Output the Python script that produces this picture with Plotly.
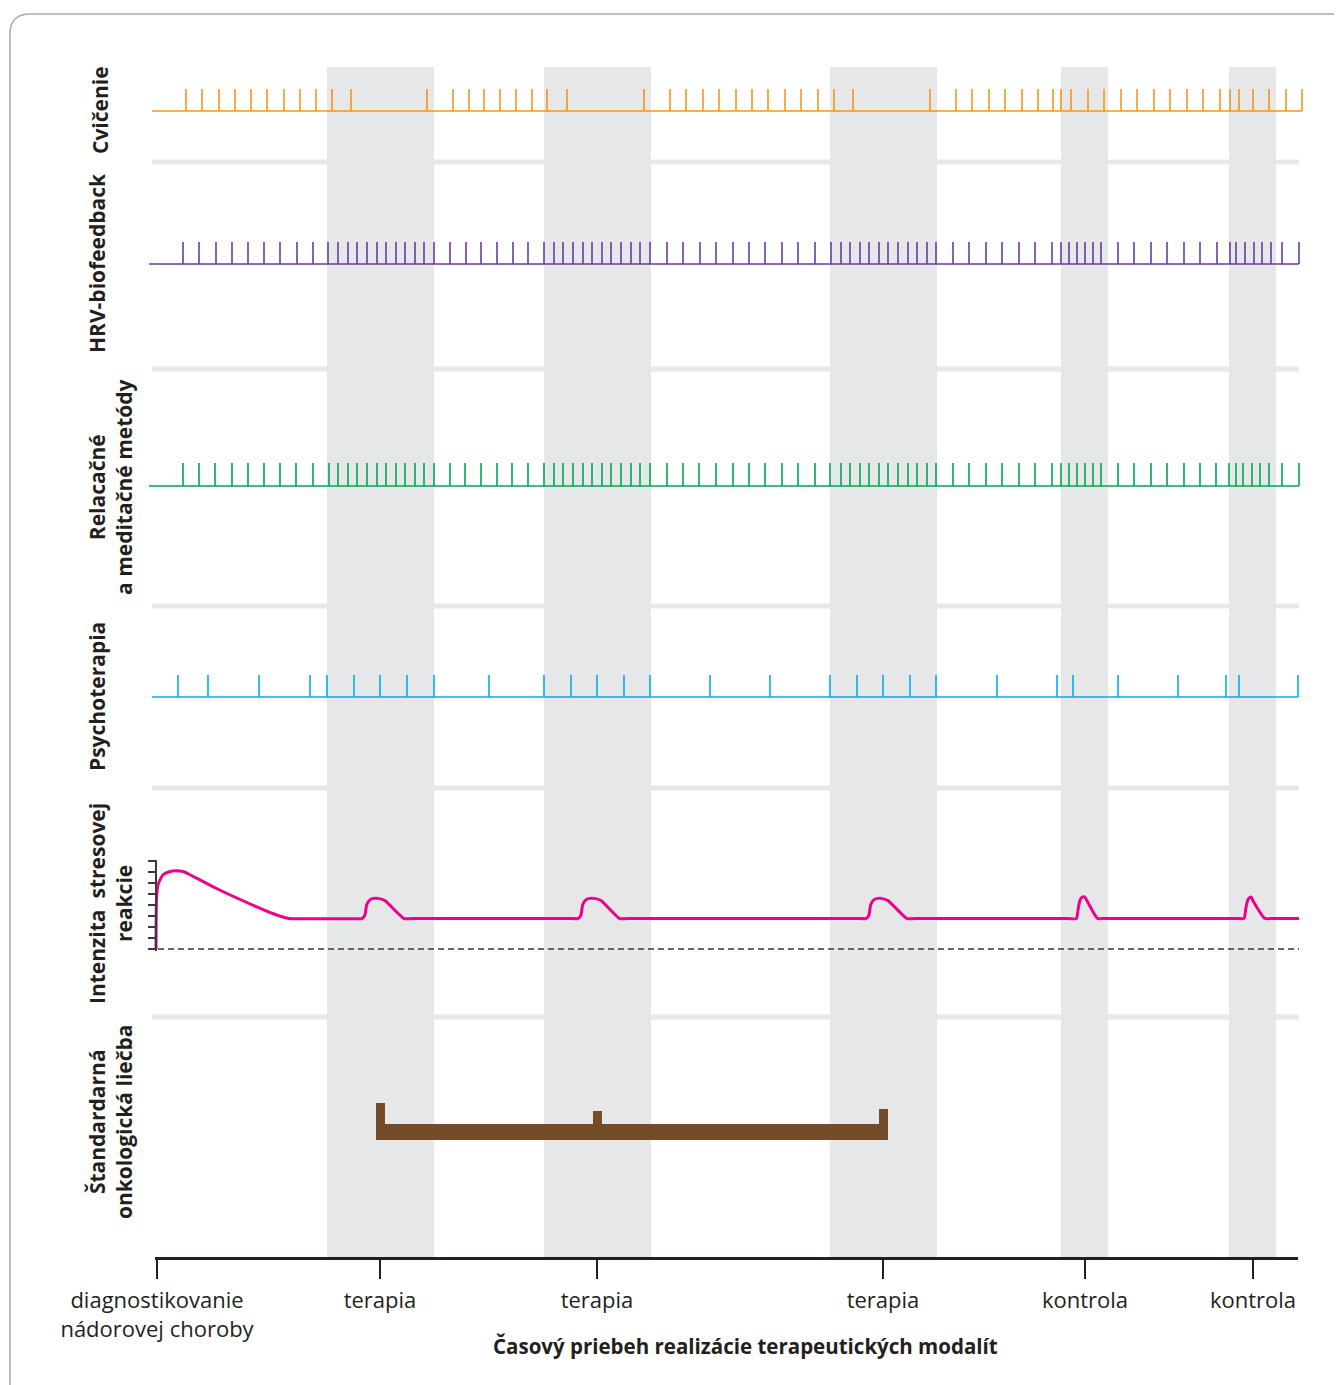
import plotly.graph_objects as go

OFF = 8                      # page body margin in the browser
W, H = 1342 - OFF, 1385 - OFF

# ---------------- data ----------------
row_labels = [
    "Cvičenie",
    "HRV-biofeedback",
    "Relacačné<br>a meditačné metódy",
    "Psychoterapia",
    "Intenzita\u00a0 stresovej<br>reakcie",
    "Štandardarná<br>onkologická liečba",
]

timeline_ticks = [157, 380, 597, 883, 1085, 1253]
timeline_labels = ["diagnostikovanie<br>nádorovej choroby", "terapia", "terapia",
                   "terapia", "kontrola", "kontrola"]
x_title = "Časový priebeh realizácie terapeutických modalít"

period_start = [327, 544, 830, 1061, 1229]
period_end = [434, 651, 937, 1108, 1276]

cvicenie = [186, 202, 219, 235, 251, 267, 284, 300, 316, 332, 351, 427, 453, 469, 484,
            500, 516, 532, 547, 567, 644, 670, 686, 703, 719, 736, 752, 768, 785, 801,
            818, 834, 853, 930, 956, 972, 989, 1005, 1022, 1038, 1053, 1061, 1071, 1088,
            1104, 1121, 1137, 1154, 1170, 1187, 1203, 1220, 1230, 1239, 1253, 1269, 1286, 1302]
hrv = [183, 199, 216, 232, 248, 264, 280, 297, 313, 328, 338, 348, 357, 367, 377, 386, 396,
       405, 415, 424, 434, 450, 466, 481, 497, 513, 528, 544, 554, 563, 573, 583, 592, 602,
       611, 621, 631, 640, 650, 667, 683, 700, 716, 733, 749, 765, 782, 798, 815, 831, 841,
       850, 860, 869, 879, 888, 898, 908, 917, 927, 936, 953, 969, 986, 1002, 1019, 1035,
       1052, 1061, 1069, 1077, 1085, 1093, 1101, 1118, 1134, 1151, 1167, 1184, 1200, 1217,
       1230, 1236, 1245, 1254, 1262, 1271, 1282, 1299]
relaxacia = [183, 199, 215, 232, 248, 264, 280, 296, 313, 329, 338, 348, 357, 367, 377, 386,
             396, 405, 415, 424, 434, 450, 465, 481, 497, 512, 528, 544, 554, 563, 573, 583,
             592, 602, 611, 621, 631, 640, 650, 667, 683, 699, 716, 733, 749, 765, 782, 798,
             815, 830, 841, 850, 860, 869, 879, 888, 898, 908, 917, 927, 936, 953, 969, 986,
             1002, 1019, 1035, 1052, 1061, 1069, 1077, 1085, 1093, 1101, 1118, 1134, 1151,
             1167, 1184, 1200, 1216, 1229, 1236, 1243, 1252, 1260, 1269, 1282, 1299]
psychoterapia = [178, 208, 259, 310, 327, 354, 380, 407, 434, 489, 544, 571, 597, 624, 650,
                 710, 770, 830, 857, 883, 910, 936, 997, 1057, 1073, 1118, 1178, 1226, 1239, 1298]
series_start = [152, 149, 149, 152]

stress_x = [156, 156.5, 158, 163, 170, 176, 184, 190, 216, 255, 274, 289, 300,
            350, 362, 365, 366.6, 369.6, 373.5, 378, 385, 404, 412,
            570, 578, 581, 582.6, 585.6, 589.5, 594.6, 601, 619.5, 627,
            858, 866, 869, 870.6, 873.6, 877.5, 881.2, 888, 907, 915,
            1068, 1076.3, 1078.3, 1080, 1082, 1084.8, 1087.5, 1097.4, 1105,
            1236, 1244, 1246, 1248, 1250, 1251.2, 1253.5, 1265, 1273, 1299]
stress_y = [0, 4.5, 5.85, 6.75, 7.05, 7.12, 7.02, 6.75, 5.52, 3.9, 3.18, 2.77, 2.75,
            2.76, 2.77, 3.1, 4.0, 4.45, 4.6, 4.6, 4.4, 2.77, 2.77,
            2.77, 2.77, 3.1, 4.0, 4.45, 4.6, 4.6, 4.4, 2.77, 2.77,
            2.77, 2.77, 3.1, 4.0, 4.45, 4.6, 4.6, 4.4, 2.77, 2.77,
            2.77, 2.77, 3.7, 4.45, 4.7, 4.72, 4.3, 2.78, 2.78,
            2.78, 2.78, 3.8, 4.5, 4.7, 4.72, 4.3, 2.78, 2.78, 2.78]
stress_ticks = [0, 1, 2, 3, 4, 5, 6, 7, 8]

treatment_x = [380.5, 597.5, 883.5]
treatment_post = [42, 34, 36]

# ---------------- styling ----------------
GRAY = "#e6e7e8"
TXT = "#231f20"
FONT = "Open Sans"
series_colors = ["#f7941d", "#6e3a9e", "#00a651", "#00aeef"]
series_base_px = [111, 264, 486, 697]
series_tick_h = [22, 22, 23, 22]
series_data = [cvicenie, hrv, relaxacia, psychoterapia]


def px(x):
    return (x - OFF) / W


def py(y):
    return 1 - (y - OFF) / H


fig = go.Figure()
layout_axes = {}

# event rows
for i, (ev, col, b, h, s) in enumerate(zip(series_data, series_colors, series_base_px,
                                             series_tick_h, series_start)):
    yname = "y" if i == 0 else f"y{i + 1}"
    key = "yaxis" if i == 0 else f"yaxis{i + 1}"
    layout_axes[key] = dict(domain=[py(b + 4), py(b - h)], range=[-4 / h, 1],
                            visible=False, fixedrange=True, automargin=False)
    xs, ys = [], []
    for t in ev:
        xs += [t, t, None]
        ys += [0, 1, None]
    fig.add_trace(go.Scatter(x=xs, y=ys, mode="lines", xaxis="x", yaxis=yname,
                             line=dict(color=col, width=1.6), hoverinfo="skip",
                             showlegend=False))
    fig.add_trace(go.Scatter(x=[s, max(ev)], y=[0, 0], mode="lines", xaxis="x", yaxis=yname,
                             line=dict(color=col, width=1.6), hoverinfo="skip",
                             showlegend=False))

# stress row (y5)
layout_axes["yaxis5"] = dict(domain=[py(950.65), py(860)], range=[-0.15, 8.09],
                             anchor="free", position=px(156), side="left",
                             showline=True, linecolor="#3a3a3a", linewidth=1.5,
                             ticks="outside", ticklen=7, tickwidth=1.5, tickcolor="#3a3a3a",
                             tickvals=stress_ticks, showticklabels=False, showgrid=False,
                             zeroline=False, fixedrange=True, automargin=False)
fig.add_trace(go.Scatter(x=[148, 1299], y=[0, 0], mode="lines", xaxis="x", yaxis="y5",
                         line=dict(color="#3a3a3a", width=1.5, dash="6px,4px"),
                         hoverinfo="skip", showlegend=False))
fig.add_trace(go.Scatter(x=stress_x, y=stress_y, mode="lines", xaxis="x", yaxis="y5",
                         line=dict(color="#ec008c", width=3, shape="spline", smoothing=0.5),
                         hoverinfo="skip", showlegend=False))

# oncology treatment row (y6): value v <-> pixel 1145 - v
layout_axes["yaxis6"] = dict(domain=[py(1145), py(1095)], range=[0, 50], visible=False,
                             fixedrange=True, automargin=False)
BROWN = "#754c28"
fig.add_trace(go.Scatter(x=[treatment_x[0] - 4.5, treatment_x[-1] + 4.5], y=[13, 13],
                         mode="lines", xaxis="x", yaxis="y6",
                         line=dict(color=BROWN, width=16), hoverinfo="skip",
                         showlegend=False))
for tx, top in zip(treatment_x, treatment_post):
    fig.add_trace(go.Scatter(x=[tx, tx], y=[10, top], mode="lines", xaxis="x", yaxis="y6",
                             line=dict(color=BROWN, width=9), hoverinfo="skip",
                             showlegend=False))

# timeline axis (x2)
fig.add_trace(go.Scatter(x=timeline_ticks, y=[0] * len(timeline_ticks), mode="markers",
                         xaxis="x2", yaxis="y5", marker=dict(opacity=0),
                         hoverinfo="skip", showlegend=False))

# shapes: periods, separators, frame
shapes = []
for a, b in zip(period_start, period_end):
    shapes.append(dict(type="rect", xref="x", yref="paper", x0=a, x1=b,
                       y0=py(1257), y1=py(67), fillcolor=GRAY, line_width=0, layer="below"))
for c in [162, 369, 606, 788, 1017]:
    shapes.append(dict(type="rect", xref="x", yref="paper", x0=152, x1=1299,
                       y0=py(c + 2.5), y1=py(c - 2.5), fillcolor=GRAY, line_width=0,
                       layer="below"))
frame = (f"M {px(10)},{py(1400)} L {px(10)},{py(34)} Q {px(10)},{py(14)} {px(30)},{py(14)} "
         f"L {px(1332)},{py(14)} Q {px(1352)},{py(14)} {px(1352)},{py(34)}")
shapes.append(dict(type="path", xref="paper", yref="paper", path=frame,
                   line=dict(color="#a7a9ac", width=1.5)))

# annotations: row labels, x title
ann = []
label_pos = [(100, 110), (97, 263), (110, 487), (97, 697), (110, 904), (110, 1122)]
for txt, (lx, ly) in zip(row_labels, label_pos):
    ann.append(dict(text=f"<b>{txt}</b>", x=px(lx), y=py(ly), xref="paper", yref="paper",
                    textangle=-90, showarrow=False, xanchor="center", yanchor="middle",
                    font=dict(family=FONT, size=21, color=TXT), align="center"))
ann.append(dict(text=f"<b>{x_title}</b>", x=px(745), y=py(1346), xref="paper", yref="paper",
                showarrow=False, xanchor="center", yanchor="middle",
                font=dict(family=FONT, size=20.5, color=TXT)))

fig.update_layout(
    width=W, height=H, margin=dict(l=0, r=0, t=0, b=0, autoexpand=False),
    paper_bgcolor="white", plot_bgcolor="rgba(0,0,0,0)",
    hovermode=False, showlegend=False,
    xaxis=dict(domain=[0, 1], range=[OFF, 1342], visible=False, fixedrange=True,
               automargin=False),
    xaxis2=dict(domain=[px(155), px(1298)], range=[155, 1298], anchor="free",
                position=py(1258), showline=True, linecolor=TXT, linewidth=3,
                ticks="outside", ticklen=19, tickwidth=1.5, tickcolor=TXT,
                tickvals=timeline_ticks, ticktext=timeline_labels, showgrid=False,
                zeroline=False, fixedrange=True, automargin=False, ticklabelstandoff=3,
                tickfont=dict(family=FONT, size=22, color=TXT)),
    shapes=shapes, annotations=ann,
    **layout_axes,
)

fig.write_html("out.html")
